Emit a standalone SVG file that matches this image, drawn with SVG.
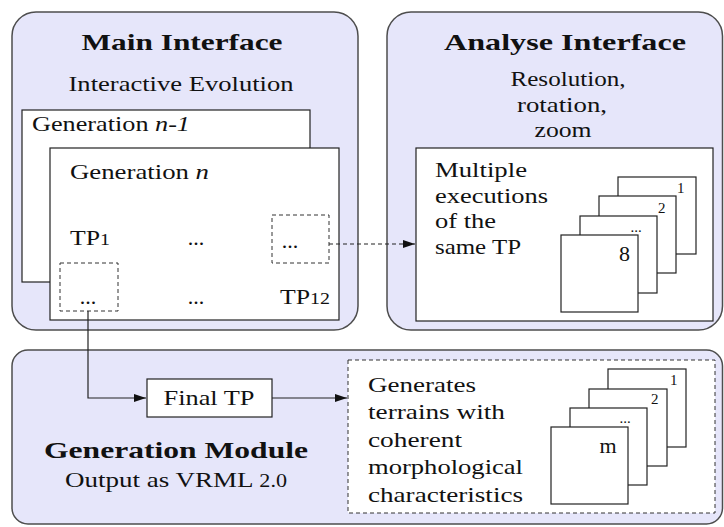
<svg xmlns="http://www.w3.org/2000/svg" width="724" height="527" viewBox="0 0 724 527">
<style>
.panel{fill:#e6e6fa;stroke:#4d4d4d;stroke-width:1.5}
.box{fill:#fff;stroke:#222;stroke-width:1.2}
.dbox{fill:none;stroke:#333;stroke-width:1;stroke-dasharray:4 3}
.dboxw{fill:#fff;stroke:#333;stroke-width:1;stroke-dasharray:4 3}
.conn{fill:none;stroke:#222;stroke-width:1.2}
.dash{stroke-dasharray:4 3}
</style>
<defs>
<marker id="arr" viewBox="0 0 12 10" refX="12" refY="5" markerWidth="12" markerHeight="10" markerUnits="userSpaceOnUse" orient="auto">
<path d="M0,1 L12,5 L0,9 z" fill="#111"/>
</marker>
</defs>

<g id="main-interface">
<rect class="panel" x="12" y="12" width="346" height="318" rx="24"/>
<text style="font-family:'Liberation Serif',serif;font-size:24px;font-weight:bold;fill:#111;text-anchor:middle" x="182" y="50" textLength="201" lengthAdjust="spacingAndGlyphs">Main Interface</text>
<text style="font-family:'Liberation Serif',serif;font-size:22px;fill:#111;text-anchor:middle" x="181" y="91" textLength="225" lengthAdjust="spacingAndGlyphs">Interactive Evolution</text>
<g id="gen-n-1">
<rect class="box" x="22" y="110" width="288" height="172"/>
<text style="font-family:'Liberation Serif',serif;font-size:22px;fill:#111" x="32" y="131" textLength="158" lengthAdjust="spacingAndGlyphs">Generation <tspan font-style="italic">n-1</tspan></text>
</g>
<g id="gen-n">
<rect class="box" x="50" y="148" width="289" height="172"/>
<text style="font-family:'Liberation Serif',serif;font-size:22px;fill:#111" x="70" y="179" textLength="139" lengthAdjust="spacingAndGlyphs">Generation <tspan font-style="italic">n</tspan></text>
<text style="font-family:'Liberation Serif',serif;font-size:22px;fill:#111" x="70" y="245" textLength="40" lengthAdjust="spacingAndGlyphs">TP<tspan font-size="17">1</tspan></text>
<text style="font-family:'Liberation Serif',serif;font-size:22px;fill:#111;text-anchor:middle" x="196" y="245">...</text>
<text style="font-family:'Liberation Serif',serif;font-size:22px;fill:#111;text-anchor:middle" x="196" y="304">...</text>
<text style="font-family:'Liberation Serif',serif;font-size:22px;fill:#111" x="280" y="304" textLength="50" lengthAdjust="spacingAndGlyphs">TP<tspan font-size="17">12</tspan></text>
</g>
<g id="tp-sel-a">
<rect class="dbox" x="272" y="215" width="57" height="48"/>
<text style="font-family:'Liberation Serif',serif;font-size:22px;fill:#111;text-anchor:middle" x="290" y="248">...</text>
</g>
<g id="tp-sel-b">
<rect class="dbox" x="60" y="263" width="58" height="48"/>
<text style="font-family:'Liberation Serif',serif;font-size:22px;fill:#111;text-anchor:middle" x="88" y="304">...</text>
</g>
</g>

<g id="analyse-interface">
<rect class="panel" x="387" y="12" width="335.5" height="318" rx="24"/>
<text style="font-family:'Liberation Serif',serif;font-size:24px;font-weight:bold;fill:#111;text-anchor:middle" x="565" y="50" textLength="242" lengthAdjust="spacingAndGlyphs">Analyse Interface</text>
<text style="font-family:'Liberation Serif',serif;font-size:22px;fill:#111;text-anchor:middle" x="568" y="86" textLength="115" lengthAdjust="spacingAndGlyphs">Resolution,</text>
<text style="font-family:'Liberation Serif',serif;font-size:22px;fill:#111;text-anchor:middle" x="562" y="112" textLength="90" lengthAdjust="spacingAndGlyphs">rotation,</text>
<text style="font-family:'Liberation Serif',serif;font-size:22px;fill:#111;text-anchor:middle" x="563" y="137" textLength="57" lengthAdjust="spacingAndGlyphs">zoom</text>
<rect class="box" x="416" y="148" width="297" height="173"/>
<text style="font-family:'Liberation Serif',serif;font-size:22px;fill:#111" x="435" y="177" textLength="92" lengthAdjust="spacingAndGlyphs">Multiple</text>
<text style="font-family:'Liberation Serif',serif;font-size:22px;fill:#111" x="435" y="203" textLength="113" lengthAdjust="spacingAndGlyphs">executions</text>
<text style="font-family:'Liberation Serif',serif;font-size:22px;fill:#111" x="435" y="228" textLength="61" lengthAdjust="spacingAndGlyphs">of the</text>
<text style="font-family:'Liberation Serif',serif;font-size:22px;fill:#111" x="435" y="254" textLength="86" lengthAdjust="spacingAndGlyphs">same TP</text>
<g id="exec-stack">
<rect class="box" x="618" y="177" width="78" height="77"/>
<text style="font-family:'Liberation Serif',serif;font-size:15px;fill:#111" x="677" y="193">1</text>
<rect class="box" x="599" y="196" width="77" height="77"/>
<text style="font-family:'Liberation Serif',serif;font-size:15px;fill:#111" x="658" y="213">2</text>
<rect class="box" x="580" y="216" width="77" height="77"/>
<text style="font-family:'Liberation Serif',serif;font-size:15px;fill:#111;text-anchor:middle" x="636" y="232">...</text>
<rect class="box" x="561" y="235" width="77" height="77"/>
<text style="font-family:'Liberation Serif',serif;font-size:22px;fill:#111" x="619" y="261">8</text>
</g>
</g>

<g id="generation-module">
<rect class="panel" x="12" y="350" width="710.5" height="174" rx="16"/>
<text style="font-family:'Liberation Serif',serif;font-size:24px;font-weight:bold;fill:#111;text-anchor:middle" x="176" y="458" textLength="264" lengthAdjust="spacingAndGlyphs">Generation Module</text>
<text style="font-family:'Liberation Serif',serif;font-size:22px;fill:#111;text-anchor:middle" x="176" y="487" textLength="222" lengthAdjust="spacingAndGlyphs">Output as VRML <tspan font-size="18">2.0</tspan></text>
<g id="final-tp">
<rect class="box" x="147" y="379" width="125" height="38"/>
<text style="font-family:'Liberation Serif',serif;font-size:22px;fill:#111;text-anchor:middle" x="209" y="405" textLength="91" lengthAdjust="spacingAndGlyphs">Final TP</text>
</g>
<g id="generates">
<rect class="dboxw" x="348" y="360" width="367" height="153"/>
<text style="font-family:'Liberation Serif',serif;font-size:22px;fill:#111" x="368" y="392" textLength="108" lengthAdjust="spacingAndGlyphs">Generates</text>
<text style="font-family:'Liberation Serif',serif;font-size:22px;fill:#111" x="368" y="419" textLength="137" lengthAdjust="spacingAndGlyphs">terrains with</text>
<text style="font-family:'Liberation Serif',serif;font-size:22px;fill:#111" x="368" y="447" textLength="94" lengthAdjust="spacingAndGlyphs">coherent</text>
<text style="font-family:'Liberation Serif',serif;font-size:22px;fill:#111" x="368" y="474" textLength="155" lengthAdjust="spacingAndGlyphs">morphological</text>
<text style="font-family:'Liberation Serif',serif;font-size:22px;fill:#111" x="368" y="502" textLength="155" lengthAdjust="spacingAndGlyphs">characteristics</text>
<rect class="box" x="608" y="369" width="78" height="78"/>
<text style="font-family:'Liberation Serif',serif;font-size:15px;fill:#111" x="670" y="385">1</text>
<rect class="box" x="589" y="389" width="78" height="77"/>
<text style="font-family:'Liberation Serif',serif;font-size:15px;fill:#111" x="651" y="404">2</text>
<rect class="box" x="570" y="408" width="77" height="77"/>
<text style="font-family:'Liberation Serif',serif;font-size:15px;fill:#111;text-anchor:middle" x="625" y="423">...</text>
<rect class="box" x="551" y="427" width="77" height="77"/>
<text style="font-family:'Liberation Serif',serif;font-size:22px;fill:#111;text-anchor:middle" x="608" y="453">m</text>
</g>
</g>

<g id="connectors">
<path class="conn dash" d="M329,244 H415" marker-end="url(#arr)"/>
<path class="conn" d="M88,311 V398 H146" marker-end="url(#arr)"/>
<path class="conn" d="M272,398 H347" marker-end="url(#arr)"/>
</g>
</svg>
